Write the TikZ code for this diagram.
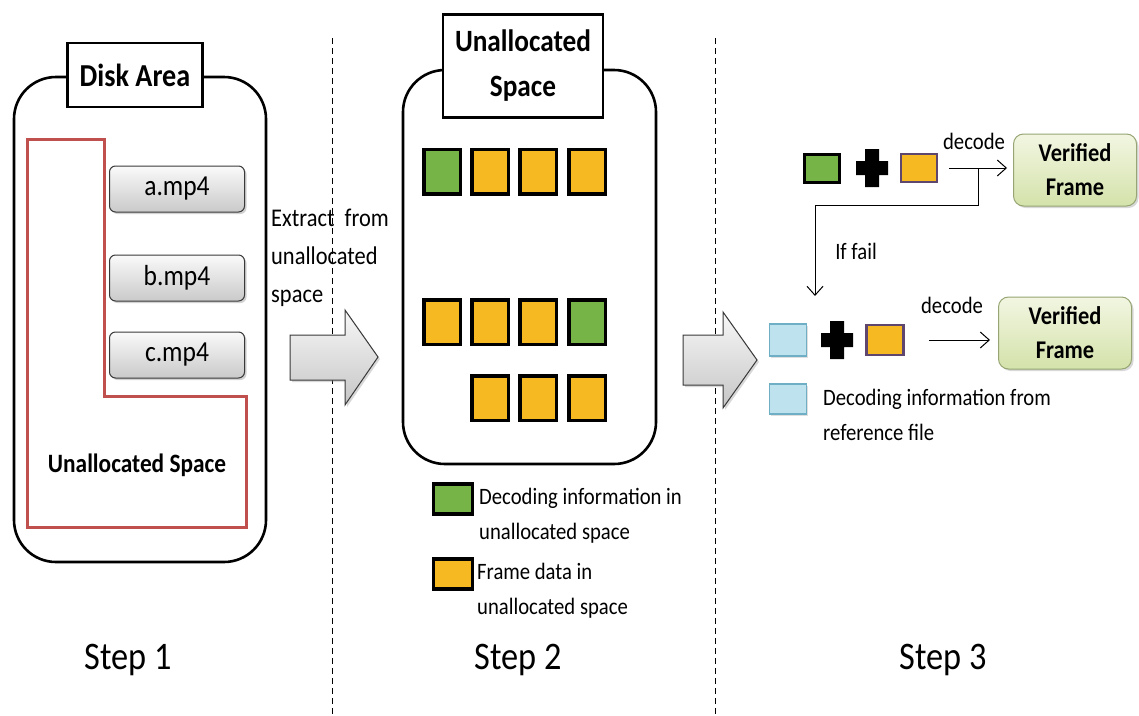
\documentclass[tikz,border=0pt]{standalone}
\usepackage{fontspec}
\setmainfont{Carlito}[FakeStretch=0.88]
\usetikzlibrary{arrows.meta,shadows,calc}
\definecolor{sqgreen}{RGB}{118,180,72}
\definecolor{sqorange}{RGB}{246,185,33}
\definecolor{redL}{RGB}{192,80,77}
\definecolor{lblue}{RGB}{190,226,238}
\definecolor{lblueb}{RGB}{110,175,198}
\definecolor{purpb}{RGB}{95,70,110}
\definecolor{vftop}{RGB}{242,246,226}
\definecolor{vfbot}{RGB}{212,226,170}
\definecolor{vfborder}{RGB}{150,165,115}
\begin{document}
\begin{tikzpicture}[x=1pt,y=-1pt,
  panel/.style={draw,line width=2.6pt,rounded corners=42pt,inner sep=0pt},
  title/.style={draw,line width=2.8pt,fill=white,inner sep=0pt,align=center},
  file/.style={draw=gray!45!black,line width=1pt,rounded corners=6pt,top color=gray!4,bottom color=gray!42,
     drop shadow={shadow xshift=2pt,shadow yshift=-2pt,opacity=0.35},
     minimum width=135pt,minimum height=46pt,inner sep=0pt,font=\fontsize{29}{30}\selectfont},
  sqbox/.style={draw,line width=3.5pt,minimum width=36.5pt,minimum height=44.5pt,inner sep=0pt},
  lsq/.style={draw,line width=3.2pt,minimum width=39pt,minimum height=30pt,inner sep=0pt},
  bigarrow/.style={draw=gray!45!black,line width=1pt,top color=gray!6,bottom color=gray!45,
     drop shadow={shadow xshift=2pt,shadow yshift=-2pt,opacity=0.3}},
  sep/.style={draw,line width=0.8pt,dash pattern=on 6pt off 4pt},
  conn/.style={draw,line width=1pt,-{Straight Barb[length=9pt,width=16pt,line width=1pt]}},
  vframe/.style={draw=vfborder,line width=1pt,rounded corners=10pt,top color=vftop,bottom color=vfbot,
     drop shadow={shadow xshift=2pt,shadow yshift=-2pt,opacity=0.3},
     align=center,inner sep=0pt,font=\bfseries\fontsize{25.5}{34}\selectfont},
  txt/.style={inner sep=0pt,font=\fontsize{23.5}{35}\selectfont,align=left},
  steplbl/.style={inner sep=0pt,font=\fontsize{39}{42}\selectfont}]
\useasboundingbox (0,0) rectangle (1139,715);
\fill[white] (0,0) rectangle (1139,715);

% separators
\coordinate (s1t) at (332,38); \coordinate (s1b) at (332,715);
\coordinate (s2t) at (715,38); \coordinate (s2b) at (715,715);
\draw[sep] (s1t) -- (s1b);
\draw[sep] (s2t) -- (s2b);

% ---------- Step 1 ----------
\node[panel,minimum width=252pt,minimum height=485pt] (p1) at (140,319.5) {};
\draw[redL,line width=3pt] (27,139) -- (104,139) -- (104,396) -- (246,396) -- (246,527) -- (27,527) -- cycle;
\node[title,minimum width=135pt,minimum height=64pt,font=\bfseries\fontsize{32}{34}\selectfont] (disk) at (135,75) {Disk Area};
\node[file] (fa) at (177,189) {a.mp4};
\node[file] (fb) at (177,278) {b.mp4};
\node[file] (fc) at (177,355) {c.mp4};
\node[inner sep=0pt,font=\bfseries\fontsize{26.5}{28}\selectfont] (ua) at (137,465) {Unallocated Space};

\node[anchor=north west,align=left,inner sep=0pt,font=\fontsize{25.5}{38}\selectfont] (ext) at (271,209) {Extract\ \ from\\unallocated\\space};
\path[bigarrow] (290,335) -- (345,335) -- (345,310) -- (378,357) -- (345,405) -- (345,380) -- (290,380) -- cycle;

% ---------- Step 2 ----------
\node[panel,minimum width=253pt,minimum height=394pt] (p2) at (529.5,267) {};
\node[title,minimum width=160pt,minimum height=103pt,font=\bfseries\fontsize{31}{45}\selectfont] (ust) at (523,66) {Unallocated\\Space};
\node[sqbox,fill=sqgreen]  (r11) at (442,171.5) {};
\node[sqbox,fill=sqorange] (r12) at (490,171.5) {};
\node[sqbox,fill=sqorange] (r13) at (538,171.5) {};
\node[sqbox,fill=sqorange] (r14) at (587,171.5) {};
\node[sqbox,fill=sqorange] (r21) at (442,322) {};
\node[sqbox,fill=sqorange] (r22) at (490,322) {};
\node[sqbox,fill=sqorange] (r23) at (538,322) {};
\node[sqbox,fill=sqgreen]  (r24) at (587,322) {};
\node[sqbox,fill=sqorange] (r32) at (490,398) {};
\node[sqbox,fill=sqorange] (r33) at (538,398) {};
\node[sqbox,fill=sqorange] (r34) at (587,398) {};

\node[lsq,fill=sqgreen] (lg) at (453,499) {};
\node[txt,anchor=west] (lgt) at (479,516) {Decoding information in\\unallocated space};
\node[lsq,fill=sqorange] (lo) at (453,574) {};
\node[txt,anchor=west] (lot) at (477,591) {Frame data in\\unallocated space};

\path[bigarrow] (683,335) -- (723,335) -- (723,312) -- (757,360) -- (723,408) -- (723,385) -- (683,385) -- cycle;

% ---------- Step 3 ----------
\node[draw,line width=3pt,fill=sqgreen,minimum width=35pt,minimum height=28pt,inner sep=0pt] (g1) at (822,168) {};
\fill[shift={(872,168)}] (-7,-19) -- (7,-19) -- (7,-7) -- (16,-7) -- (16,7) -- (7,7) -- (7,19) -- (-7,19) -- (-7,7) -- (-16,7) -- (-16,-7) -- (-7,-7) -- cycle;
\node[draw=purpb,line width=2.5pt,fill=sqorange,minimum width=36pt,minimum height=28pt,inner sep=0pt] (o1) at (919,168) {};
\node[vframe,minimum width=123pt,minimum height=72pt] (v1) at (1075,170) {Verified\\Frame};
\draw[conn] ([xshift=11pt]o1.east) -- ([xshift=-6pt]o1.east -| v1.west);
\node[txt] (dec1) at (974,141) {decode};
\coordinate (br) at (978,168);
\coordinate (fk) at (815,296);
\draw[conn] (br) -- ++(0,37) -| (fk);
\node[txt] (fail) at (856,251) {If fail};

\node[draw=lblueb,line width=1.2pt,fill=lblue,minimum width=37pt,minimum height=32pt,inner sep=0pt,
   drop shadow={shadow xshift=1.5pt,shadow yshift=-1.5pt,opacity=0.25}] (b2) at (788,340) {};
\fill[shift={(837,340)}] (-7,-19) -- (7,-19) -- (7,-7) -- (16,-7) -- (16,7) -- (7,7) -- (7,19) -- (-7,19) -- (-7,7) -- (-16,7) -- (-16,-7) -- (-7,-7) -- cycle;
\node[draw=purpb,line width=2.5pt,fill=sqorange,minimum width=37pt,minimum height=30pt,inner sep=0pt] (o2) at (885,340) {};
\node[vframe,minimum width=133pt,minimum height=72pt] (v2) at (1065,333) {Verified\\Frame};
\draw[conn] ([xshift=24pt]o2.east) -- ([xshift=-8pt]o2.east -| v2.west);
\node[txt] (dec2) at (952,305) {decode};

\node[draw=lblueb,line width=1.2pt,fill=lblue,minimum width=37pt,minimum height=30pt,inner sep=0pt,
   drop shadow={shadow xshift=1.5pt,shadow yshift=-1.5pt,opacity=0.25}] (b3) at (788,399) {};
\node[txt,anchor=west] (b3t) at (823,415) {Decoding information from\\reference file};

% step labels
\node[steplbl] (st1) at (128,660) {Step 1};
\node[steplbl] (st2) at (518,660) {Step 2};
\node[steplbl] (st3) at (943,660) {Step 3};
\end{tikzpicture}
\end{document}
